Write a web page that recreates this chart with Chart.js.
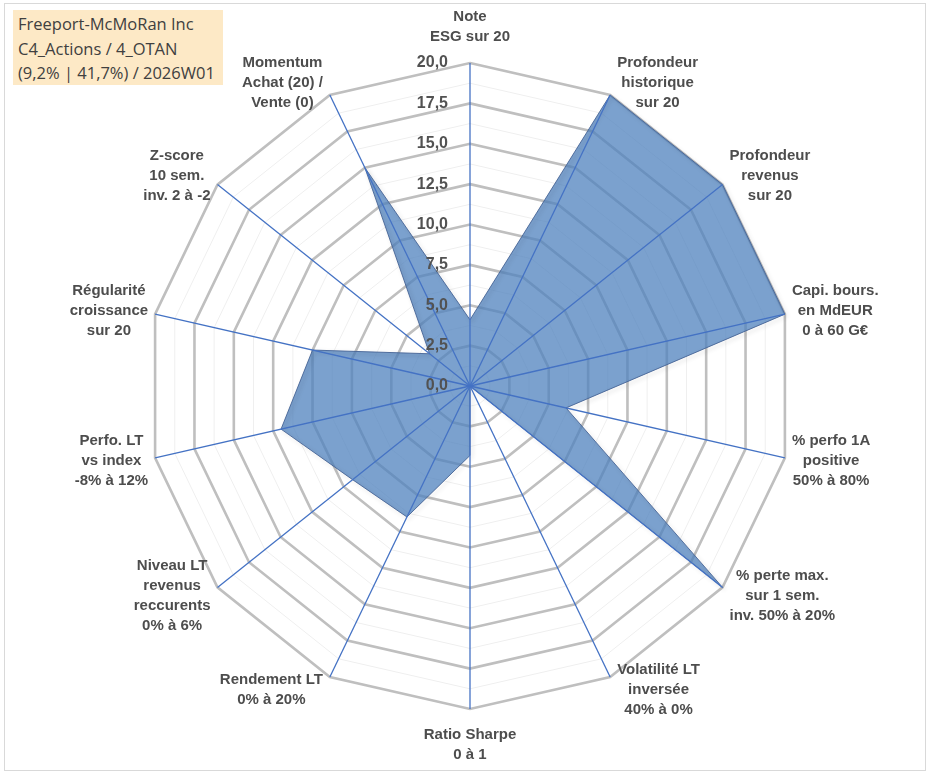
<!DOCTYPE html>
<html>
<head>
<meta charset="utf-8">
<script src="https://cdn.jsdelivr.net/npm/chart.js@4.4.1/dist/chart.umd.min.js"></script>
<style>
  html, body { margin: 0; padding: 0; background: #fff; }
  #wrap { position: relative; width: 933px; height: 776px; overflow: hidden; }
  #frame { position: absolute; left: 4px; top: 3px; width: 920px; height: 766px; border: 1px solid #d9d9d9; }
  #titre { position: absolute; left: 13px; top: 10px; width: 210px; height: 75px; background: #fde9c6;
           font-family: "Open Sans", sans-serif; font-size: 16.5px; line-height: 24.5px; color: #404040;
           padding: 2px 0 0 5px; box-sizing: border-box; white-space: nowrap; }
  #zone { position: absolute; left: 0; top: 0; width: 933px; height: 776px; }
</style>
</head>
<body>
<div id="wrap">
  <div id="frame"></div>
  <div id="zone"><canvas id="radar"></canvas></div>
  <div id="titre"></div>
</div>
<script>
// libellés des axes, dans l'ordre horaire depuis le haut
var criteres = [
  ['Note', 'ESG sur 20'],
  ['Profondeur', 'historique', 'sur 20'],
  ['Profondeur', 'revenus', 'sur 20'],
  ['Capi. bours.', 'en MdEUR', '0 à 60 G€'],
  ['% perfo 1A', 'positive', '50% à 80%'],
  ['% perte max.', 'sur 1 sem.', 'inv. 50% à 20%'],
  ['Volatilité LT', 'inversée', '40% à 0%'],
  ['Ratio Sharpe', '0 à 1'],
  ['Rendement LT', '0% à 20%'],
  ['Niveau LT', 'revenus', 'reccurents', '0% à 6%'],
  ['Perfo. LT', 'vs index', '-8% à 12%'],
  ['Régularité', 'croissance', 'sur 20'],
  ['Z-score', '10 sem.', 'inv. 2 à -2'],
  ['Momentum', 'Achat (20) /', 'Vente (0)']
];
var notes = [4.1, 20, 20, 20, 6.1, 20, 0, 4.3, 9.0, 9.3, 12, 10, 3.2, 15];
var graduations = [0, 2.5, 5, 7.5, 10, 12.5, 15, 17.5, 20];
var titre = ['Freeport-McMoRan Inc', 'C4_Actions / 4_OTAN', '(9,2% | 41,7%) / 2026W01'];

document.getElementById('titre').innerHTML = titre.join('<br>');

function fmt(v) {
  return v.toFixed(1).replace('.', ',');
}

var habillage = {
  id: 'habillage',
  beforeDatasetDraw: function(chart) {
    var c = chart.ctx;
    c.save();
    c.shadowColor = 'rgba(0,0,0,0.25)';
    c.shadowBlur = 4;
    c.shadowOffsetX = 2;
    c.shadowOffsetY = 2;
  },
  afterDatasetDraw: function(chart) {
    chart.ctx.restore();
  },
  afterDatasetsDraw: function(chart) {
    var r = chart.scales.r;
    var ctx = chart.ctx;
    var i, p;
    ctx.save();

    // rayons bleus au-dessus de la surface
    ctx.strokeStyle = '#4472c4';
    ctx.lineWidth = 1.3;
    for (i = 0; i < criteres.length; i++) {
      p = r.getPointPosition(i, r.drawingArea);
      ctx.beginPath();
      ctx.moveTo(r.xCenter, r.yCenter);
      ctx.lineTo(p.x, p.y);
      ctx.stroke();
    }

    // graduations à gauche de l'axe vertical
    ctx.fillStyle = '#525252';
    ctx.font = 'bold 16px "Liberation Sans", Arial, sans-serif';
    ctx.textAlign = 'right';
    ctx.textBaseline = 'middle';
    graduations.forEach(function(v) {
      ctx.fillText(fmt(v), r.xCenter - 22, r.yCenter - r.getDistanceFromCenterForValue(v));
    });

    // libellés centrés autour des sommets
    ctx.fillStyle = '#4d4d4d';
    ctx.font = 'bold 15px "Liberation Sans", Arial, sans-serif';
    ctx.textAlign = 'center';
    var lh = 20;
    for (i = 0; i < criteres.length; i++) {
      var lignes = criteres[i];
      var a = r.getIndexAngle(i);
      var s = Math.sin(a), co = Math.cos(a);
      p = r.getPointPosition(i, r.drawingArea);
      var w = 0;
      lignes.forEach(function(t) { w = Math.max(w, ctx.measureText(t).width); });
      var h = lignes.length * lh;
      var cx, cy;
      if (Math.abs(s) < 0.1) {
        cx = p.x;
        cy = p.y - co * (h / 2 + 16);
      } else {
        cx = p.x + (s > 0 ? 1 : -1) * (w / 2 + 7);
        cy = p.y - co * 14;
      }
      var y0 = cy - h / 2 + lh / 2;
      lignes.forEach(function(t, k) {
        ctx.fillText(t, cx, y0 + k * lh);
      });
    }
    ctx.restore();
  }
};

new Chart(document.getElementById('radar'), {
  type: 'radar',
  data: {
    labels: criteres,
    datasets: [{
      data: notes,
      backgroundColor: 'rgba(79,129,189,0.75)',
      borderColor: 'rgba(70,100,150,0.9)',
      borderWidth: 1,
      pointRadius: 0,
      pointHoverRadius: 0,
      fill: true
    }]
  },
  options: {
    responsive: true,
    maintainAspectRatio: false,
    animation: false,
    events: [],
    layout: { padding: { top: 63, bottom: 67, left: 7, right: 0 } },
    plugins: { legend: { display: false }, tooltip: { enabled: false } },
    scales: {
      r: {
        min: 0,
        max: 20,
        ticks: { stepSize: 1.25, display: false },
        pointLabels: { display: false },
        angleLines: { display: false },
        grid: {
          color: function(c) {
            return (c.tick && Math.abs(c.tick.value % 2.5) < 1e-6) ? '#bfbfbf' : '#efefef';
          },
          lineWidth: function(c) {
            return (c.tick && Math.abs(c.tick.value % 2.5) < 1e-6) ? 2.6 : 1;
          }
        }
      }
    }
  },
  plugins: [habillage]
});
</script>
</body>
</html>
